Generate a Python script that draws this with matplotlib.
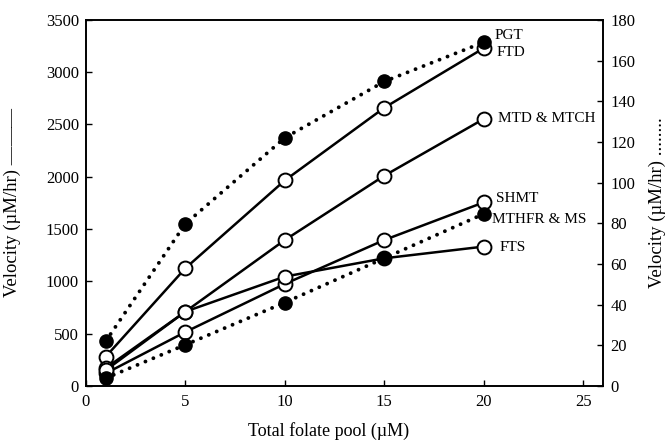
import matplotlib.pyplot as plt

plt.rcParams['font.family'] = ['Liberation Serif', 'DejaVu Serif']

# --- Data ---
pool = [1, 5, 10, 15, 20]

# left axis (solid lines, open circles), uM/hr
ftd = [280, 1125, 1965, 2660, 3230]
mtd_mtch = [170, 710, 1395, 2010, 2553]
shmt = [120, 515, 975, 1395, 1755]
fts = [150, 710, 1045, 1220, 1332]

# right axis (dotted lines, filled circles), uM/hr
pgt = [22, 79.7, 122, 149.7, 169]
mthfr_ms = [3.8, 20.2, 41, 62.8, 84.6]

solid_names = ['FTD', 'MTD & MTCH', 'SHMT', 'FTS']
dotted_names = ['PGT', 'MTHFR & MS']

xticks = [0, 5, 10, 15, 20, 25]
left_ticks = [0, 500, 1000, 1500, 2000, 2500, 3000, 3500]
right_ticks = [0, 20, 40, 60, 80, 100, 120, 140, 160, 180]

# --- Figure ---
fig = plt.figure(figsize=(6.71, 4.41), dpi=100)
ax = fig.add_axes([0.128, 0.125, 0.771, 0.83])
ax2 = ax.twinx()

# label offsets (points) next to the last point of each series
offsets = {'FTD': (9, -3), 'MTD & MTCH': (10, 0), 'SHMT': (9, 3),
           'FTS': (11, -1), 'PGT': (8, 5), 'MTHFR & MS': (6, -4)}

for name, vals in zip(solid_names, [ftd, mtd_mtch, shmt, fts]):
    ax.plot(pool, vals, color='black', lw=1.8, marker='o', ms=10,
            mfc='white', mec='black', mew=1.4, zorder=3)
    ax.annotate(name, (pool[-1], vals[-1]), xytext=offsets[name],
                textcoords='offset points', ha='left', va='center', fontsize=11)

for name, vals in zip(dotted_names, [pgt, mthfr_ms]):
    ax2.plot(pool, vals, color='black', lw=2.8, linestyle=(0, (0.01, 2.2)),
             dash_capstyle='round', marker='o', ms=9.5, mfc='black', mec='black')
    ax2.annotate(name, (pool[-1], vals[-1]), xytext=offsets[name],
                 textcoords='offset points', ha='left', va='center', fontsize=11)

ax.set_xlim(0, 26)
ax.set_ylim(0, 3500)
ax2.set_ylim(0, 180)
ax.set_xticks(xticks)
ax.set_yticks(left_ticks)
ax2.set_yticks(right_ticks)

for a in (ax, ax2):
    a.tick_params(direction='in', length=4, width=1, labelsize=12)
ax.tick_params(axis='x', pad=6)
ax.tick_params(axis='y', pad=5)
ax2.tick_params(axis='y', pad=5)
for a in (ax, ax2):
    for s in a.spines.values():
        s.set_linewidth(1.2)

ax.set_xlabel('Total folate pool (µM)', fontsize=13)
ax.set_ylabel('Velocity (µM/hr) ———', fontsize=13.5)
ax2.set_ylabel('Velocity (µM/hr) ........', fontsize=13.5, rotation=90)
ax.xaxis.set_label_coords(0.47, -0.1)
ax.yaxis.set_label_coords(-0.125, 0.5)
ax2.yaxis.set_label_coords(1.088, 0.5)

fig.savefig('out.png', dpi=100)
